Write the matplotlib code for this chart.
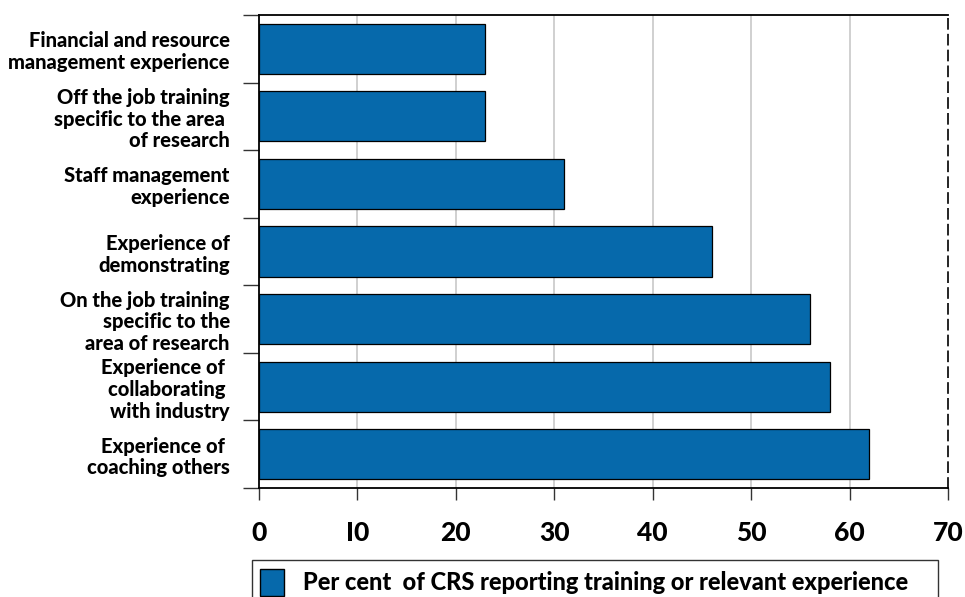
import numpy as np
import matplotlib.pyplot as plt
from matplotlib.patches import Patch

BLUE = '#0669ab'
GRID = '#c8c8c8'

categories = [
    "Financial and resource\nmanagement experience",
    "Off the job training\nspecific to the area \nof research",
    "Staff management\nexperience",
    "Experience of\ndemonstrating",
    "On the job training\nspecific to the\narea of research",
    "Experience of \ncollaborating \nwith industry",
    "Experience of \ncoaching others",
]
values = [23, 23, 31, 46, 56, 58, 62]
x_ticks = [0, 10, 20, 30, 40, 50, 60, 70]
x_labels = ["0", "I0", "20", "30", "40", "50", "60", "70"]
legend_label = "Per cent  of CRS reporting training or relevant experience"

plt.rcParams['font.family'] = ['Lato', 'DejaVu Sans']

fig = plt.figure(figsize=(9.65, 5.97), dpi=100)
ax = fig.add_axes([259/965, 1-488/597, (948-259)/965, (488-15)/597])

n = len(categories)
ypos = np.arange(n)
ax.barh(ypos, values, height=0.74, color=BLUE, edgecolor='black', linewidth=0.9, zorder=3)
ax.set_ylim(n-0.5, -0.5)
ax.set_xlim(0, 70)

# category boundaries as major ticks, labels on minor ticks at centres
ax.set_yticks(np.arange(-0.5, n, 1.0))
ax.set_yticklabels([])
ax.set_yticks(ypos, minor=True)
ax.set_yticklabels(categories, minor=True, fontsize=14.5, fontweight='black', linespacing=1.17)
ax.tick_params(axis='y', which='major', length=11.5, width=1.0, color='#333333')
ax.tick_params(axis='y', which='minor', length=0, pad=21)

ax.set_xticks(x_ticks)
ax.set_xticklabels(x_labels, fontsize=19, fontweight='black')
ax.tick_params(axis='x', length=8.5, width=1.0, color='#333333', pad=15)

ax.grid(axis='x', color=GRID, linewidth=1.2, zorder=0)
for t in ax.get_xgridlines()[:1] + ax.get_xgridlines()[-1:]:
    t.set_visible(False)

for side in ['top', 'left', 'bottom']:
    ax.spines[side].set_color('black')
    ax.spines[side].set_linewidth(1.3)
ax.spines['right'].set_linewidth(1.2)
ax.spines['right'].set_linestyle((0, (6, 3.5)))

handle = Patch(facecolor=BLUE, edgecolor='black', linewidth=1.0)
leg = fig.legend([handle], [legend_label], loc='lower left',
                 bbox_to_anchor=(252/965, -0.012, (938-252)/965, 0.07),
                 mode='expand', frameon=True, fancybox=False, edgecolor='black',
                 prop={'size': 17, 'weight': 'black'}, handlelength=1.0, handleheight=1.4,
                 borderpad=0.35, handletextpad=0.8, borderaxespad=0)
leg.get_frame().set_linewidth(1.0)

fig.savefig('out.png', dpi=100)
